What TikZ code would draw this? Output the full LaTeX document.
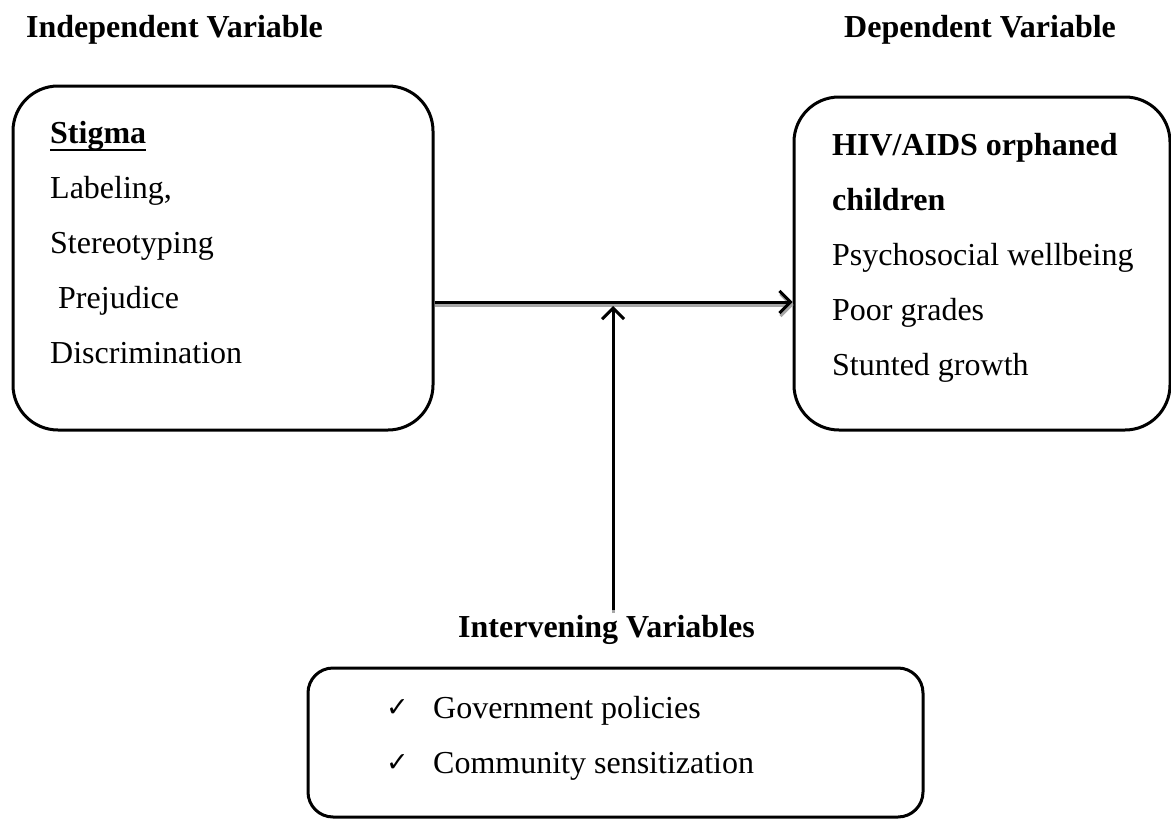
\documentclass[tikz,border=0pt]{standalone}
\usepackage{fontspec}
\setmainfont{Liberation Serif}
\newfontfamily\symfont{DejaVu Sans}
\usetikzlibrary{arrows.meta}
\begin{document}
\begin{tikzpicture}[x=1pt,y=-1pt,
  box/.style={draw=black, line width=3pt, rounded corners=#1, inner sep=0pt},
  txt/.style={anchor=base west, inner sep=0pt, font=\fontsize{32}{38}\selectfont},
  hd/.style={anchor=base west, inner sep=0pt, font=\fontsize{32}{38}\selectfont\bfseries},
  chk/.style={anchor=base west, inner sep=0pt, font=\fontsize{27}{30}\symfont},
  arr/.style={line width=3pt, -{Straight Barb[length=11pt,width=22pt,line width=3pt]}},
  shd/.style={line width=3pt, draw=black!35, -{Straight Barb[length=11pt,width=22pt,line width=3pt]}}]
\useasboundingbox (0,0) rectangle (1171,819);
\fill[white] (0,0) rectangle (1171,819);

% headings
\node[hd] (ivh) at (26,37) {Independent Variable};
\node[hd] (dvh) at (844,37) {Dependent Variable};

% boxes
\node[box=45pt, minimum width=420pt, minimum height=344pt] (L) at (223,258) {};
\node[box=45pt, minimum width=376pt, minimum height=333pt] (R) at (982,263.5) {};
\node[box=25pt, minimum width=615pt, minimum height=149pt] (B) at (615.5,742.5) {};

% left box text
\node[hd] (stigma) at (50,143) {Stigma};
\draw[line width=2.5pt] ([yshift=-7pt]stigma.base west) -- ([yshift=-7pt]stigma.base east);
\node[txt] (l1) at (50,198) {Labeling,};
\node[txt] (l2) at (50,253) {Stereotyping};
\node[txt] (l3) at (58,308) {Prejudice};
\node[txt] (l4) at (50,363) {Discrimination};

% right box text
\node[hd] (r1) at (832,155) {HIV/AIDS orphaned};
\node[hd] (r2) at (832,210) {children};
\node[txt] (r3) at (832,265) {Psychosocial wellbeing};
\node[txt] (r4) at (832,320) {Poor grades};
\node[txt] (r5) at (832,375) {Stunted growth};

% intervening
\node[hd] (iv) at (458,637) {Intervening Variables};
\node[chk] (c1) at (386,716) {✓};
\node[txt] (b1) at (433,718) {Government policies};
\node[chk] (c2) at (386,771) {✓};
\node[txt] (b2) at (433,773) {Community sensitization};

% connectors
\coordinate (j) at (613,302);
\coordinate (jt) at (613,306);
\coordinate (vb) at (613,610);
\draw[shd] ([yshift=-3pt]L.east |- j) -- ([yshift=-3pt,xshift=1pt]R.west |- j);
\draw[arr] (L.east |- j) -- (R.west |- j);
\draw[line width=3pt, draw=black!35] ([yshift=-3pt]vb) -- ([yshift=-3pt]vb |- jt);
\draw[arr] (vb) -- (jt);
\end{tikzpicture}
\end{document}
